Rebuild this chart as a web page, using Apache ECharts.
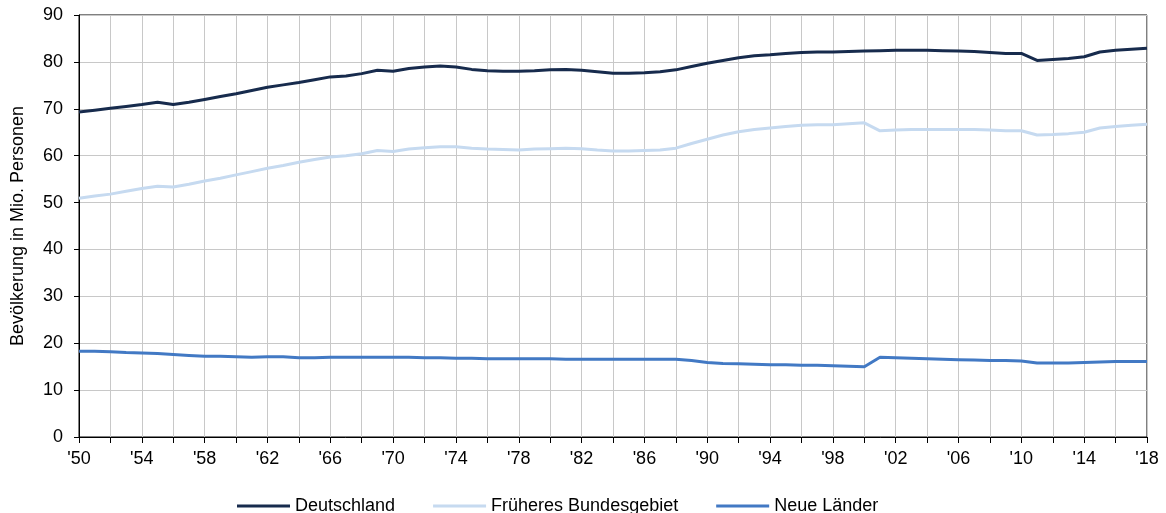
<!DOCTYPE html>
<html>
<head>
<meta charset="utf-8">
<script src="https://cdn.jsdelivr.net/npm/echarts@6/dist/echarts.min.js"></script>
<style>html,body{margin:0;padding:0;background:#fff}#c{width:1166px;height:513px}</style>
</head>
<body>
<div id="c"></div>
<script>
const years = [];
for (let y = 1950; y <= 2018; y++) years.push(y);

const deutschland = [69.3,69.7,70.1,70.5,70.9,71.4,70.9,71.4,72.0,72.6,
73.2,73.9,74.6,75.1,75.6,76.2,76.8,77.0,77.5,78.2,
78.0,78.6,78.9,79.1,78.9,78.4,78.1,78.0,78.0,78.1,
78.3,78.4,78.2,77.9,77.6,77.6,77.7,77.9,78.3,79.0,
79.7,80.3,80.9,81.3,81.5,81.8,82.0,82.1,82.1,82.2,
82.3,82.4,82.5,82.5,82.5,82.4,82.3,82.2,82.0,81.8,
81.8,80.3,80.5,80.7,81.1,82.1,82.5,82.7,82.9];

const fruheres = [50.9,51.4,51.8,52.4,53.0,53.5,53.3,53.9,54.6,55.2,
55.9,56.6,57.3,57.9,58.6,59.2,59.7,60.0,60.4,61.1,
60.9,61.4,61.7,61.9,61.9,61.6,61.4,61.3,61.2,61.4,
61.5,61.6,61.5,61.2,61.0,61.0,61.1,61.2,61.6,62.6,
63.5,64.4,65.1,65.6,65.9,66.2,66.5,66.6,66.6,66.8,
67.0,65.3,65.5,65.6,65.6,65.6,65.6,65.6,65.5,65.3,
65.3,64.4,64.5,64.7,65.0,65.9,66.2,66.5,66.7];

const neueLaender = [18.3,18.3,18.2,18.0,17.9,17.8,17.6,17.4,17.2,17.2,
17.1,17.0,17.1,17.1,16.9,16.9,17.0,17.0,17.0,17.0,
17.0,17.0,16.9,16.9,16.8,16.8,16.7,16.7,16.7,16.7,
16.7,16.6,16.6,16.6,16.6,16.6,16.6,16.6,16.6,16.3,
15.9,15.7,15.6,15.5,15.4,15.4,15.3,15.3,15.2,15.1,
15.0,17.0,16.9,16.8,16.7,16.6,16.5,16.4,16.3,16.3,
16.2,15.8,15.8,15.8,15.9,16.0,16.1,16.1,16.1];

const seriesNames = ['Deutschland', 'Früheres Bundesgebiet', 'Neue Länder'];
const yTicks = [0,10,20,30,40,50,60,70,80,90];

const FONT = "'Liberation Sans', Arial, sans-serif";
const FS = 18;
const pairs = arr => years.map((y, i) => [y, arr[i]]);
const colors = ['#172b4d', '#c6daf0', '#4279c4'];

const chart = echarts.init(document.getElementById('c'), null, {renderer: 'canvas'});
chart.setOption({
  animation: false,
  grid: {left: 79, right: 19, top: 15, bottom: 76, show: true, borderColor: '#000', borderWidth: 1, backgroundColor: 'transparent'},
  xAxis: {
    type: 'value', min: 1950, max: 2018, interval: 2,
    axisLine: {show: true, lineStyle: {color: '#000', width: 1}},
    axisTick: {show: true, length: 6, lineStyle: {color: '#000'}},
    splitLine: {show: true, lineStyle: {color: '#c8c8c8', width: 1}},
    axisLabel: {
      color: '#000', fontSize: FS, fontFamily: FONT, margin: 13,
      formatter: v => ((v - 1950) % 4 === 0 ? "'" + String(v).slice(2) : '')
    }
  },
  yAxis: {
    type: 'value', min: yTicks[0], max: yTicks[yTicks.length - 1], interval: 10,
    name: 'Bevölkerung in Mio. Personen', nameLocation: 'middle', nameGap: 52,
    nameTextStyle: {color: '#000', fontSize: FS, fontFamily: FONT},
    axisLine: {show: true, lineStyle: {color: '#000', width: 1}},
    axisTick: {show: true, length: 5, lineStyle: {color: '#000'}},
    splitLine: {show: true, lineStyle: {color: '#c8c8c8', width: 1}},
    axisLabel: {color: '#000', fontSize: FS, fontFamily: FONT, margin: 16}
  },
  legend: {
    top: 497, left: 237, padding: 0,
    icon: 'rect', itemWidth: 53, itemHeight: 3, itemGap: 38,
    textStyle: {color: '#000', fontSize: FS, fontFamily: FONT},
    data: seriesNames
  },
  series: [
    {name: seriesNames[0], type: 'line', data: pairs(deutschland), showSymbol: false, lineStyle: {width: 3, color: colors[0]}, itemStyle: {color: colors[0]}},
    {name: seriesNames[1], type: 'line', data: pairs(fruheres), showSymbol: false, lineStyle: {width: 3, color: colors[1]}, itemStyle: {color: colors[1]}},
    {name: seriesNames[2], type: 'line', data: pairs(neueLaender), showSymbol: false, lineStyle: {width: 3, color: colors[2]}, itemStyle: {color: colors[2]}}
  ]
});
</script>
</body>
</html>
